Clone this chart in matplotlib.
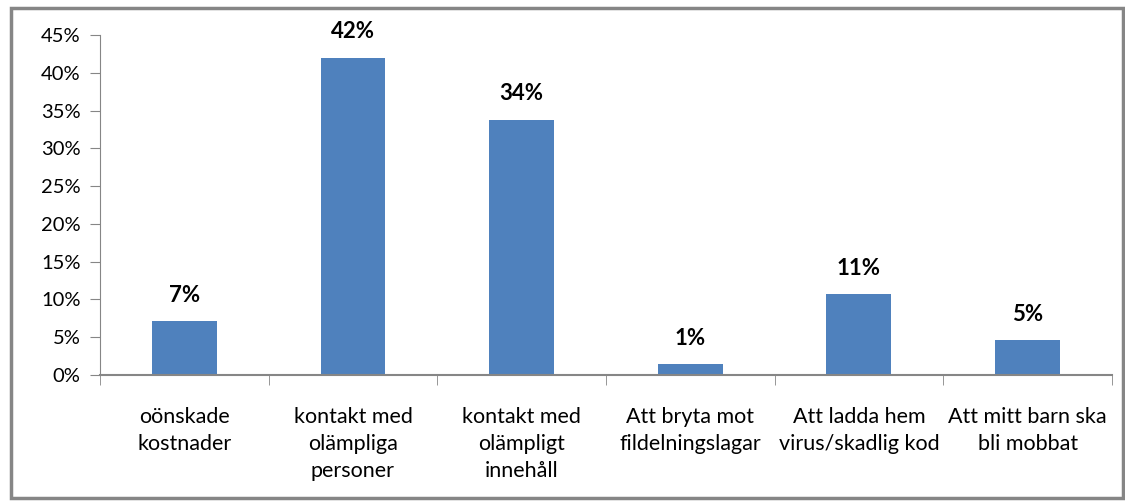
import numpy as np
import matplotlib.pyplot as plt
from matplotlib.patches import Rectangle

categories = ['oönskade\nkostnader', 'kontakt med\nolämpliga\npersoner',
              'kontakt med\nolämpligt\ninnehåll', 'Att bryta mot\nfildelningslagar',
              'Att ladda hem\nvirus/skadlig kod', 'Att mitt barn ska\nbli mobbat']
values = [7.1, 42.0, 33.8, 1.4, 10.7, 4.6]
labels = ['7%', '42%', '34%', '1%', '11%', '5%']
yticks = list(range(0, 50, 5))

plt.rcParams['font.family'] = ['Lato', 'DejaVu Sans']
grey = '#868686'

fig = plt.figure(figsize=(11.25, 5.04), dpi=100)
fig.patches.append(Rectangle((0.0098, 0.012), 0.988, 0.972, transform=fig.transFigure,
                             fill=False, edgecolor=grey, linewidth=2.5))
ax = fig.add_axes([0.0889, 0.256, 0.8995, 0.6746])

x = np.arange(len(categories))
ax.bar(x, values, width=0.385, color='#4F81BD')
for xi, v, lab in zip(x, values, labels):
    ax.annotate(lab, (xi, v), xytext=(0, 11), textcoords='offset points',
                ha='center', va='bottom', fontsize=16, fontweight='bold')

ax.set_xlim(-0.5, len(categories) - 0.5)
ax.set_ylim(0, 45)
ax.set_yticks(yticks)
ax.set_yticklabels([f'{t}%' for t in yticks], fontsize=14.5)
ax.set_xticks(x)
ax.set_xticklabels(categories, fontsize=15.5, linespacing=1.45)
ax.set_xticks(np.arange(-0.5, len(categories), 1), minor=True)
ax.tick_params(axis='x', which='major', length=0, pad=23)
ax.tick_params(axis='x', which='minor', length=7, color=grey)
ax.tick_params(axis='y', length=7, color=grey, pad=7)

for side in ['top', 'right']:
    ax.spines[side].set_visible(False)
for side in ['left', 'bottom']:
    ax.spines[side].set_color(grey)
ax.spines['bottom'].set_linewidth(1.5)

fig.savefig('out.png', dpi=100)
